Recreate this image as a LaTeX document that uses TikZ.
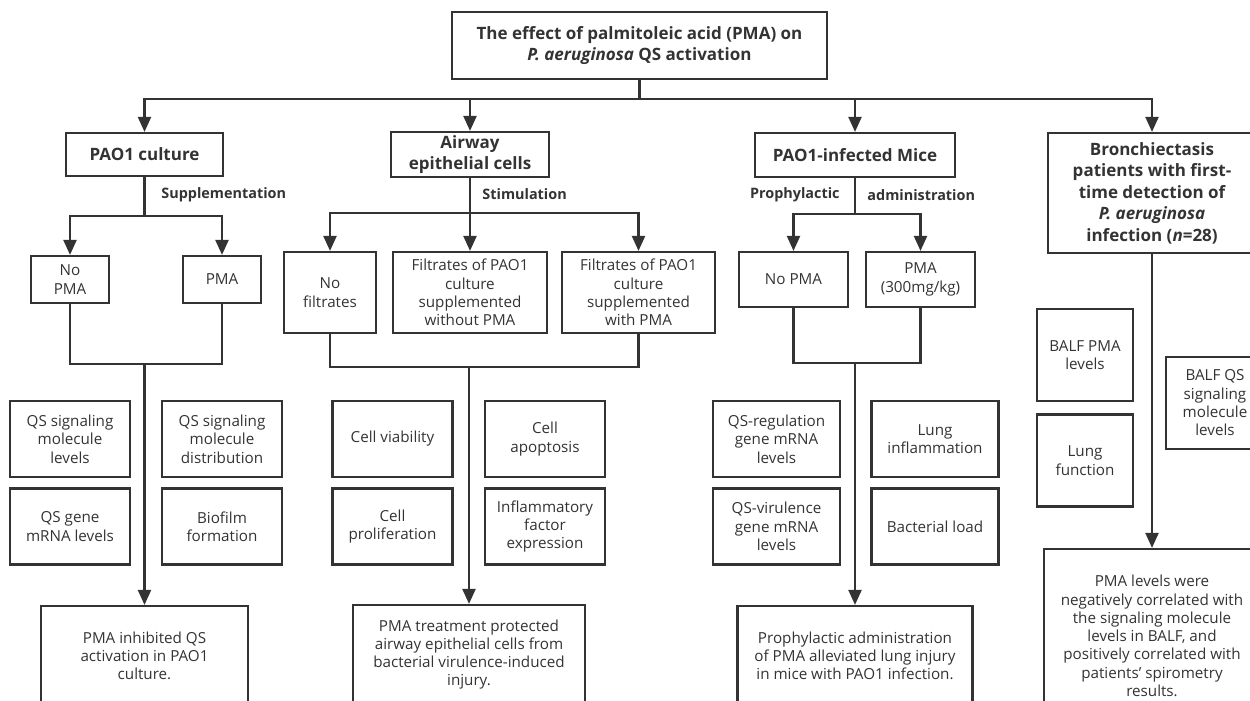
\documentclass[tikz,border=0pt]{standalone}
\usepackage{fontspec}
\setmainfont{Open Sans}
\usetikzlibrary{arrows.meta}
\definecolor{linec}{HTML}{333333}
\tikzset{
  box/.style={draw,line width=2.2pt,align=center,inner sep=1pt,font=\fontsize{15.2}{18.3}\selectfont},
  head/.style={box,font=\fontsize{17}{21.5}\selectfont\bfseries},
  lbl/.style={font=\fontsize{14.4}{16}\selectfont\bfseries},
  cell/.style={box,minimum width=120pt,minimum height=76pt},
  mcell/.style={box,minimum width=127pt,minimum height=76pt},
  bcell/.style={box,minimum width=96pt,minimum height=92pt},
}
\begin{document}
\begin{tikzpicture}[x=1pt,y=-1pt,>={Triangle[length=15pt,width=13pt]},color=linec,line width=2.2pt]
  \useasboundingbox (0,0) rectangle (1250,701);
  \clip (0,0) rectangle (1250,701);
  % main boxes
  \node[head,minimum width=375pt,minimum height=67pt] (title) at (639.5,45.5) {The effect of palmitoleic acid (PMA) on\\\textit{P. aeruginosa} QS activation};
  \node[head,minimum width=157pt,minimum height=43pt] (pao) at (144.5,154.5) {PAO1 culture};
  \node[head,minimum width=158pt,minimum height=45pt] (air) at (470,154.5) {Airway\\epithelial cells};
  \node[head,minimum width=200pt,minimum height=44pt] (mice) at (855,155) {PAO1-infected Mice};
  \node[head,minimum width=208pt,minimum height=120pt] (bron) at (1152,193) {Bronchiectasis\\patients with first-\\time detection of\\\textit{P. aeruginosa}\\infection (\textit{n}=28)};
  \coordinate (bus) at (639.5,99);
  \draw (title) -- (bus);
  \draw[->] (bus) -| (pao);
  \draw[->] (bus) -| (air);
  \draw[->] (bus) -| (mice);
  \draw[->] (bus) -| (bron);
  % groups
  \node[box,minimum width=78pt,minimum height=47pt] (nopma) at (70,279.5) {No\\PMA};
  \node[box,minimum width=78pt,minimum height=47pt] (pma) at (222,279.5) {PMA};
  \node[box,minimum width=92pt,minimum height=81pt] (nofil) at (330,292.5) {No\\filtrates};
  \node[box,minimum width=154pt,minimum height=81pt] (filno) at (470,292.5) {Filtrates of PAO1\\culture\\supplemented\\without PMA};
  \node[box,minimum width=153pt,minimum height=81pt] (filpma) at (638.5,292.5) {Filtrates of PAO1\\culture\\supplemented\\with PMA};
  \node[box,minimum width=109pt,minimum height=55pt] (mnopma) at (793.5,279.5) {No PMA};
  \node[box,minimum width=109pt,minimum height=55pt] (mpma) at (920.5,279.5) {PMA\\(300mg/kg)};
  \coordinate (pj) at (144.5,216);
  \coordinate (aj) at (470,213);
  \coordinate (mj) at (855,214);
  \draw (pao) -- (pj);
  \draw[->] (pj) -| (nopma);
  \draw[->] (pj) -| (pma);
  \draw (air) -- (aj);
  \draw[->] (aj) -| (nofil);
  \draw[->] (aj) -- (filno);
  \draw[->] (aj) -| (filpma);
  \draw (mice) -- (mj);
  \draw[->] (mj) -| (mnopma);
  \draw[->] (mj) -| (mpma);
  \node[lbl,anchor=west] (supp) at (157,195) {Supplementation};
  \node[lbl,anchor=west] (stim) at (478,194) {Stimulation};
  \node[lbl,anchor=east] (proph) at (844,195) {Prophylactic};
  \node[lbl,anchor=west] (admin) at (863,195) {administration};
  % measured items
  \node[cell] (qsl) at (70,439) {QS signaling\\molecule\\levels};
  \node[cell] (qsd) at (222,439) {QS signaling\\molecule\\distribution};
  \node[cell] (qsg) at (70,526.5) {QS gene\\mRNA levels};
  \node[cell] (bio) at (222,526.5) {Biofilm\\formation};
  \node[cell] (via) at (392.5,439) {Cell viability};
  \node[cell] (apo) at (545,439) {Cell\\apoptosis};
  \node[cell] (pro) at (392.5,526.5) {Cell\\proliferation};
  \node[cell] (inf) at (545,526.5) {Inflammatory\\factor\\expression};
  \node[mcell] (qsr) at (776.5,439) {QS-regulation\\gene mRNA\\levels};
  \node[mcell] (lung) at (935,439) {Lung\\inflammation};
  \node[mcell] (qsv) at (776.5,526.5) {QS-virulence\\gene mRNA\\levels};
  \node[mcell] (load) at (935,526.5) {Bacterial load};
  \node[bcell] (bpma) at (1085,355) {BALF PMA\\levels};
  \node[bcell] (lfun) at (1085,460.5) {Lung\\function};
  \node[bcell,minimum width=98pt] (bqs) at (1215,403) {BALF QS\\signaling\\molecule\\levels};
  % results
  \node[box,minimum width=207pt,minimum height=100pt] (res1) at (144.5,656) {PMA inhibited QS\\activation in PAO1\\culture.};
  \node[box,minimum width=232pt,minimum height=99pt] (res2) at (469,654.5) {PMA treatment protected\\airway epithelial cells from\\bacterial virulence-induced\\injury.};
  \node[box,minimum width=235pt,minimum height=100pt] (res3) at (855,656) {Prophylactic administration\\of PMA alleviated lung injury\\in mice with PAO1 infection.};
  \node[box,minimum width=216pt,minimum height=174pt] (res4) at (1152,636) {PMA levels were\\negatively correlated with\\the signaling molecule\\levels in BALF, and\\positively correlated with\\patients' spirometry\\results.};
  \coordinate (lm) at (144.5,364);
  \coordinate (mm) at (469,367);
  \coordinate (rm) at (855,363);
  \draw (nopma) |- (lm) -| (pma);
  \draw (nofil) |- (mm) -| (filpma);
  \draw (mnopma) |- (rm) -| (mpma);
  \draw[->] (lm) -- (res1);
  \draw[->] (mm) -- (res2);
  \draw[->] (rm) -- (res3);
  \draw[->] (bron) -- (res4);
\end{tikzpicture}
\end{document}
